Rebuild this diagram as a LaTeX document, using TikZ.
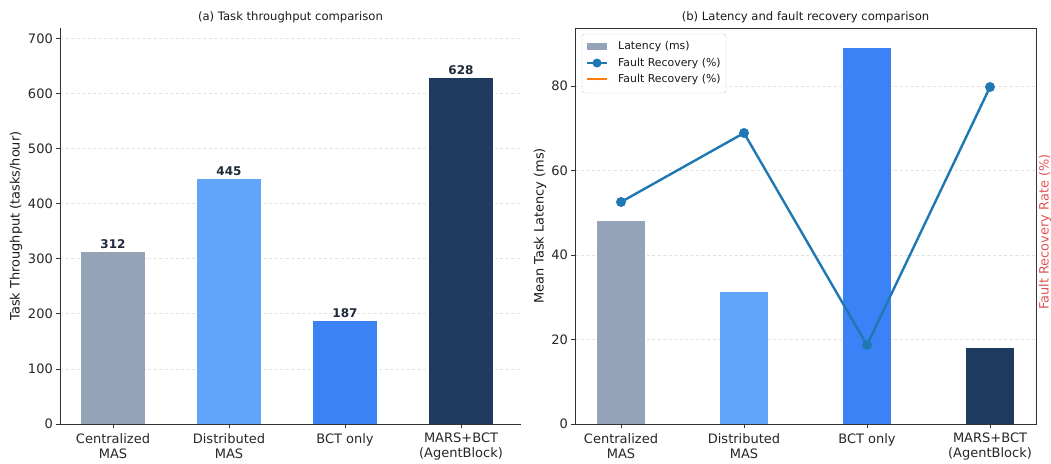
\documentclass[tikz,border=0pt]{standalone}
\usepackage{fontspec}
\setmainfont{DejaVu Sans}
\usepackage{tikz}

\definecolor{cgray}{HTML}{94A3B8}
\definecolor{clight}{HTML}{60A5FA}
\definecolor{cblue}{HTML}{3B82F6}
\definecolor{cnavy}{HTML}{1E3A5F}
\definecolor{cline}{HTML}{1F77B4}
\definecolor{corange}{HTML}{FF7F0E}
\definecolor{cval}{HTML}{1E293B}
\definecolor{cred}{HTML}{E25555}
\definecolor{cgrid}{HTML}{E2E2E2}

\begin{document}
\begin{tikzpicture}[x=1pt,y=-1pt,
  grid/.style={dash pattern=on 3pt off 2.5pt,color=cgrid,line width=0.7pt},
  spine/.style={line width=0.8pt,color=black!80},
  ticklab/.style={inner sep=0pt,font=\fontsize{13}{15}\selectfont,text=black!85},
  catlab/.style={inner sep=0pt,anchor=north,align=center,font=\fontsize{13}{15}\selectfont,text=black!85},
  vallab/.style={inner sep=0pt,anchor=south,font=\fontsize{12}{13}\selectfont\bfseries,text=cval},
  title/.style={inner sep=0pt,font=\fontsize{11.6}{13}\selectfont,text=black!90},
  axlab/.style={inner sep=0pt,rotate=90,font=\fontsize{12.9}{15}\selectfont,text=black!90},
  leglab/.style={inner sep=0pt,anchor=west,font=\fontsize{10.9}{13}\selectfont,text=black!90},
  dot/.style={circle,fill=cline,inner sep=0pt,minimum size=10pt}]
\useasboundingbox (0,0) rectangle (1051,463);

% (a) throughput
\draw [grid](60,38.3)--(521,38.3);
\draw [grid](60,93.4)--(521,93.4);
\draw [grid](60,148.5)--(521,148.5);
\draw [grid](60,203.6)--(521,203.6);
\draw [grid](60,258.7)--(521,258.7);
\draw [grid](60,313.8)--(521,313.8);
\draw [grid](60,368.9)--(521,368.9);

\fill [cgray](81,252.1) rectangle (145,424);
\fill [clight](197,178.8) rectangle (261,424);
\fill [cblue](313,321) rectangle (377,424);
\fill [cnavy](429,78) rectangle (493,424);

\node [vallab] (v1) at (113,249) {312};
\node [vallab] (v2) at (229,176) {445};
\node [vallab] (v3) at (345,318) {187};
\node [vallab] (v4) at (461,75) {628};

\draw [spine](60,28)--(60,424)--(521,424);

\draw [spine](56,38.3)--(60,38.3);
\draw [spine](56,93.4)--(60,93.4);
\draw [spine](56,148.5)--(60,148.5);
\draw [spine](56,203.6)--(60,203.6);
\draw [spine](56,258.7)--(60,258.7);
\draw [spine](56,313.8)--(60,313.8);
\draw [spine](56,368.9)--(60,368.9);
\draw [spine](56,424)--(60,424);

\node [ticklab,anchor=east] (ya7) at (53,38.3) {700};
\node [ticklab,anchor=east] (ya6) at (53,93.4) {600};
\node [ticklab,anchor=east] (ya5) at (53,148.5) {500};
\node [ticklab,anchor=east] (ya4) at (53,203.6) {400};
\node [ticklab,anchor=east] (ya3) at (53,258.7) {300};
\node [ticklab,anchor=east] (ya2) at (53,313.8) {200};
\node [ticklab,anchor=east] (ya1) at (53,368.9) {100};
\node [ticklab,anchor=east] (ya0) at (53,424) {0};

\draw [spine](113,424)--(113,428);
\draw [spine](229,424)--(229,428);
\draw [spine](345,424)--(345,428);
\draw [spine](461,424)--(461,428);

\node [catlab] (xa1) at (113,433) {Centralized\\MAS};
\node [catlab] (xa2) at (229,433) {Distributed\\MAS};
\node [catlab] (xa3) at (345,433) {BCT only};
\node [catlab] (xa4) at (461,433) {MARS+BCT\\(AgentBlock)};

\node [title] (ta) at (290.5,17) {(a) Task throughput comparison};
\node [axlab] (la) at (16,226) {Task Throughput (tasks/hour)};

% (b) latency and recovery
\draw [grid](575,86)--(1036,86);
\draw [grid](575,170.5)--(1036,170.5);
\draw [grid](575,255)--(1036,255);
\draw [grid](575,339.5)--(1036,339.5);

\fill [cgray](597,221.2) rectangle (645,424);
\fill [clight](720,292) rectangle (768,424);
\fill [cblue](843,48) rectangle (891,424);
\fill [cnavy](966,348) rectangle (1014,424);

\coordinate (f1) at (621,202);
\coordinate (f2) at (744,133);
\coordinate (f3) at (867,345);
\coordinate (f4) at (990,87);
\draw [cline,line width=2.4pt,line join=round](f1)--(f2)--(f3)--(f4);
\node [dot] (d1) at (f1) {};
\node [dot] (d2) at (f2) {};
\node [dot] (d3) at (f3) {};
\node [dot] (d4) at (f4) {};

\draw [spine](575,28) rectangle (1036,424);

\draw [spine](571,86)--(575,86);
\draw [spine](571,170.5)--(575,170.5);
\draw [spine](571,255)--(575,255);
\draw [spine](571,339.5)--(575,339.5);
\draw [spine](571,424)--(575,424);

\node [ticklab,anchor=east] (yb4) at (568,86) {80};
\node [ticklab,anchor=east] (yb3) at (568,170.5) {60};
\node [ticklab,anchor=east] (yb2) at (568,255) {40};
\node [ticklab,anchor=east] (yb1) at (568,339.5) {20};
\node [ticklab,anchor=east] (yb0) at (568,424) {0};

\draw [spine](621,424)--(621,428);
\draw [spine](744,424)--(744,428);
\draw [spine](867,424)--(867,428);
\draw [spine](990,424)--(990,428);

\node [catlab] (xb1) at (621,433) {Centralized\\MAS};
\node [catlab] (xb2) at (744,433) {Distributed\\MAS};
\node [catlab] (xb3) at (867,433) {BCT only};
\node [catlab] (xb4) at (990,433) {MARS+BCT\\(AgentBlock)};

\node [title] (tb) at (805.5,17) {(b) Latency and fault recovery comparison};
\node [axlab] (lb) at (540,226) {Mean Task Latency (ms)};
\node [axlab,text=cred] (lc) at (1045,232) {Fault Recovery Rate (\%)};

% legend
\draw [rounded corners=2.5pt,draw=black!20,fill=white,fill opacity=0.85](582,34) rectangle (726,93);
\fill [cgray](587,42.5) rectangle (607,49.5);
\draw [cline,line width=2.4pt](587,63)--(607,63);
\node [dot,minimum size=9pt] (lgd) at (597,63) {};
\draw [corange,line width=2.4pt](587,79)--(607,79);
\node [leglab] (g1) at (618,46) {Latency (ms)};
\node [leglab] (g2) at (618,63) {Fault Recovery (\%)};
\node [leglab] (g3) at (618,79.5) {Fault Recovery (\%)};

\end{tikzpicture}
\end{document}
